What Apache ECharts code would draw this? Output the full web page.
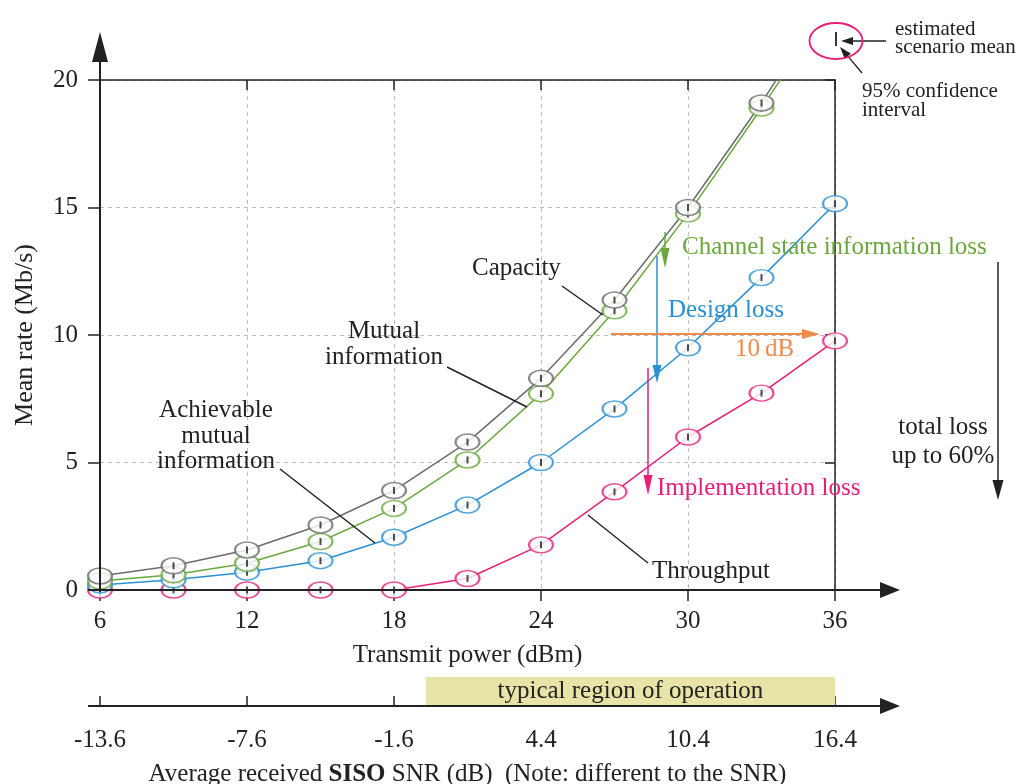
<!DOCTYPE html>
<html>
<head>
<meta charset="utf-8">
<script src="https://cdn.jsdelivr.net/npm/echarts@6/dist/echarts.min.js"></script>
<style>
  html, body { margin: 0; padding: 0; background: #fff; width: 1021px; height: 784px; overflow: hidden; }
  #chart { position: absolute; left: 0; top: 0; width: 1021px; height: 784px; }
</style>
</head>
<body>
<div id="chart"></div>
<script>
// Transmit power sweep (dBm) and mean rates (Mb/s) for each curve
const power      = [6, 9, 12, 15, 18, 21, 24, 27, 30, 33, 36];
const capacity   = [0.55, 0.95, 1.57, 2.55, 3.9, 5.8, 8.3, 11.37, 15.0, 19.1, 23.6];
const mutualInfo = [0.35, 0.6, 1.05, 1.9, 3.2, 5.1, 7.7, 10.95, 14.75, 18.9, 23.2];
const achievable = [0.2, 0.4, 0.7, 1.15, 2.07, 3.33, 5.0, 7.1, 9.5, 12.25, 15.15];
const throughput = [0, 0, 0, 0, 0, 0.45, 1.77, 3.85, 6.0, 7.72, 9.77];

// Axis ticks
const powerTicks = [6, 12, 18, 24, 30, 36];
const rateTicks  = [0, 5, 10, 15, 20];
const snrOffset  = -19.6;          // transmit power (dBm) -> average received SISO SNR (dB)
const operatingRegion = [19.3, 36]; // transmit power span of the shaded band

const FONT = '"Liberation Serif", "Times New Roman", serif';
const INK = '#222';
const C = {
  capacity: '#6c6c6c',
  mutual: '#6aa83e',
  achievable: '#2a90d2',
  throughput: '#e91e78',
  orange: '#f08a4b'
};

const curves = [
  { name: 'Throughput', values: throughput, color: C.throughput },
  { name: 'Achievable mutual information', values: achievable, color: C.achievable },
  { name: 'Mutual information', values: mutualInfo, color: C.mutual },
  { name: 'Capacity', values: capacity, color: C.capacity }
];

const chart = echarts.init(document.getElementById('chart'), null, { renderer: 'canvas', width: 1021, height: 784 });

const series = [];
curves.forEach(c => {
  series.push({
    name: c.name, type: 'line', xAxisIndex: 0, yAxisIndex: 0,
    data: power.map((p, i) => [p, c.values[i]]),
    showSymbol: false, clip: true, z: 2,
    lineStyle: { color: c.color, width: 1.5 }
  });
});
curves.forEach(c => {
  const pts = power.map((p, i) => [p, c.values[i]]);
  // confidence ellipse
  series.push({
    name: c.name + ' CI', type: 'scatter', xAxisIndex: 0, yAxisIndex: 0,
    data: pts, clip: true, z: 3, silent: true,
    symbol: 'circle', symbolSize: [24, 16],
    itemStyle: { color: '#fff', borderColor: c.color, borderWidth: 1.8 }
  });
  // estimated mean marker
  series.push({
    name: c.name + ' mean', type: 'scatter', xAxisIndex: 0, yAxisIndex: 0,
    data: pts, clip: true, z: 3, silent: true,
    symbol: 'rect', symbolSize: [2, 7],
    itemStyle: { color: INK }
  });
});

const FS = 25;
const labelStyle = { fontFamily: FONT, fontSize: FS, color: INK };
const powerRange = { min: powerTicks[0], max: powerTicks[powerTicks.length - 1], interval: powerTicks[1] - powerTicks[0] };

chart.setOption({
  animation: false,
  backgroundColor: '#fff',
  grid: { left: 100, top: 80, width: 735, height: 510, containLabel: false, outerBoundsMode: 'none' },
  xAxis: [
    {
      type: 'value', position: 'bottom', ...powerRange,
      axisLine: { show: false },
      axisTick: { show: true, length: 10, lineStyle: { color: INK, width: 1.5 } },
      axisLabel: { ...labelStyle, margin: 19 },
      splitLine: { show: true, lineStyle: { color: '#bdbdbd', type: [4, 4], width: 1 } },
      name: 'Transmit power (dBm)', nameLocation: 'middle', nameGap: 53,
      nameTextStyle: { fontFamily: FONT, fontSize: FS, color: INK }
    },
    {
      type: 'value', position: 'bottom', offset: 116, ...powerRange,
      axisLine: { show: false },
      axisTick: { show: true, length: 11, lineStyle: { color: INK, width: 1.5 } },
      axisLabel: { ...labelStyle, margin: 22, formatter: v => (v + snrOffset).toFixed(1) },
      splitLine: { show: false },
      name: '{n|Average received }{b|SISO}{n| SNR (dB)  (Note: different to the SNR)}',
      nameLocation: 'middle', nameGap: 56,
      nameTextStyle: {
        rich: {
          n: { fontFamily: FONT, fontSize: FS, color: INK },
          b: { fontFamily: FONT, fontSize: FS, color: INK, fontWeight: 'bold' }
        }
      }
    },
    {
      type: 'value', position: 'bottom', offset: 116, ...powerRange,
      axisLine: { show: false },
      axisTick: { show: true, inside: true, length: 10, lineStyle: { color: INK, width: 1.5 } },
      axisLabel: { show: false }, splitLine: { show: false }
    },
    {
      type: 'value', position: 'top', ...powerRange,
      axisLine: { show: true, lineStyle: { color: INK, width: 1.5 } },
      axisTick: { show: true, inside: true, length: 10, lineStyle: { color: INK, width: 1.5 } },
      axisLabel: { show: false }, splitLine: { show: false }
    }
  ],
  yAxis: [
    {
      type: 'value', position: 'left', min: rateTicks[0], max: rateTicks[rateTicks.length - 1],
      interval: rateTicks[1] - rateTicks[0],
      axisLine: { show: false },
      axisTick: { show: true, length: 12, lineStyle: { color: INK, width: 1.5 } },
      axisLabel: { ...labelStyle, margin: 22 },
      splitLine: { show: true, lineStyle: { color: '#bdbdbd', type: [4, 4], width: 1 } },
      name: 'Mean rate (Mb/s)', nameLocation: 'middle', nameGap: 62,
      nameTextStyle: { fontFamily: FONT, fontSize: 26, color: INK }
    },
    {
      type: 'value', position: 'right', min: rateTicks[0], max: rateTicks[rateTicks.length - 1],
      interval: rateTicks[1] - rateTicks[0],
      axisLine: { show: true, lineStyle: { color: INK, width: 1.5 } },
      axisTick: { show: true, inside: true, length: 10, lineStyle: { color: INK, width: 1.5 } },
      axisLabel: { show: false }, splitLine: { show: false }
    }
  ],
  series: series
});

// ---- decorations: axis arrows, annotations, key ----
const px = (x, y) => chart.convertToPixel({ xAxisIndex: 0, yAxisIndex: 0 }, [x, y]);
const g = [];

function line(x1, y1, x2, y2, stroke, w, z) {
  g.push({ type: 'line', z: z || 5, silent: true, shape: { x1, y1, x2, y2 }, style: { stroke, lineWidth: w || 1.5 } });
}
function arrow(x1, y1, x2, y2, color, w, headLen, headW, z) {
  const dx = x2 - x1, dy = y2 - y1, len = Math.hypot(dx, dy);
  const ux = dx / len, uy = dy / len;
  const bx = x2 - ux * headLen, by = y2 - uy * headLen;
  line(x1, y1, bx + ux * 2, by + uy * 2, color, w, z);
  g.push({
    type: 'polygon', z: z || 5, silent: true,
    shape: { points: [[x2, y2], [bx - uy * headW / 2, by + ux * headW / 2], [bx + uy * headW / 2, by - ux * headW / 2]] },
    style: { fill: color }
  });
}
function text(str, x, y, opts) {
  opts = opts || {};
  g.push({
    type: 'text', z: opts.z || 6, silent: true,
    style: {
      text: str, x, y,
      fill: opts.color || INK,
      font: (opts.size || FS) + 'px ' + FONT,
      align: opts.align || 'left', verticalAlign: 'middle',
      lineHeight: opts.lineHeight || 26
    }
  });
}

const o = px(powerTicks[0], 0);
const topLeft = px(powerTicks[0], rateTicks[rateTicks.length - 1]);
const right = px(powerTicks[powerTicks.length - 1], 0);

// main axes with arrow heads
line(o[0], o[1] + 2, o[0], topLeft[1] - 30, INK, 2, 4);
arrow(o[0], topLeft[1] - 20, o[0], topLeft[1] - 48, INK, 2, 30, 16, 4);
line(o[0] - 12, o[1], right[0] + 50, o[1], INK, 2, 4);
arrow(right[0] + 40, o[1], right[0] + 65, o[1], INK, 2, 20, 16, 4);

// SNR axis line, with the operating band drawn over the upper tick halves
const snrY = o[1] + 116;
line(o[0] - 12, snrY, right[0] + 50, snrY, INK, 2, 4);
arrow(right[0] + 40, snrY, right[0] + 65, snrY, INK, 2, 20, 16, 4);
const bandL = px(operatingRegion[0], 0)[0], bandR = px(operatingRegion[1], 0)[0];
g.push({
  type: 'rect', z: 3, silent: true,
  shape: { x: bandL, y: snrY - 29, width: bandR - bandL, height: 28 },
  style: { fill: '#e8e4a8' }
});
text('typical region of operation', (bandL + bandR) / 2, snrY - 15, { align: 'center', z: 7 });

// curve names with leader lines
text('Capacity', 472, 268);
line(562, 286, 603, 315, INK, 1.5);
text('Mutual\ninformation', 384, 344, { align: 'center', lineHeight: 26 });
line(447, 367, 527, 407, INK, 1.5);
text('Achievable\nmutual\ninformation', 216, 436, { align: 'center', lineHeight: 25.5 });
line(280, 469, 375, 543, INK, 1.5);
text('Throughput', 652, 571);
line(588, 515, 648, 563, INK, 1.5);

// loss arrows
arrow(665, 232, 665, 268, C.mutual, 1.5, 20, 9);
text('Channel state information loss', 682, 247, { color: C.mutual });
arrow(657, 256, 657, 383, C.achievable, 1.5, 18, 9);
text('Design loss', 668, 310, { color: C.achievable });
arrow(611, 334, 820, 334, C.orange, 2, 18, 10);
text('10\u2009dB', 735, 349, { color: C.orange });
arrow(648, 368, 648, 495, C.throughput, 1.5, 20, 9);
text('Implementation loss', 657, 488, { color: C.throughput });

arrow(998, 262, 998, 500, INK, 1.5, 20, 11);
text('total loss\nup to 60%', 943, 442, { align: 'center', lineHeight: 29 });

// key: confidence ellipse and mean marker
g.push({
  type: 'ellipse', z: 6, silent: true,
  shape: { cx: 836, cy: 41, rx: 26.5, ry: 18 },
  style: { fill: 'none', stroke: C.throughput, lineWidth: 1.8 }
});
line(836, 32, 836, 46, INK, 1.8);
arrow(886, 41, 841, 41, INK, 1.3, 12, 8);
arrow(862, 73, 840, 47, INK, 1.3, 12, 8);
text('estimated\nscenario mean', 895, 38, { size: 21, lineHeight: 18 });
text('95% confidence\ninterval', 862, 101, { size: 21, lineHeight: 19 });

chart.setOption({ graphic: { elements: g } });
</script>
</body>
</html>
